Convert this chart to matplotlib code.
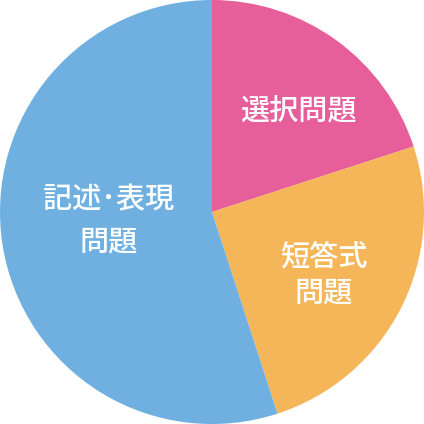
import matplotlib.pyplot as plt

# share of each question type (percent)
categories = ['選択問題', '短答式', '記述･表現']
shares = [20, 25, 55]
colors = ['#E65E9A', '#F5B65A', '#6FB0E0']

plt.rcParams['font.family'] = ['Noto Sans CJK JP', 'DejaVu Sans']

fig = plt.figure(figsize=(4.24, 4.24), dpi=100)
ax = fig.add_axes([0, 0, 1, 1])
ax.pie(shares, colors=colors, startangle=90, counterclock=False,
       radius=1.0, wedgeprops={'linewidth': 0})
ax.set_xlim(-1, 1)
ax.set_ylim(-1, 1)
ax.set_aspect('equal')
ax.axis('off')

style = dict(ha='center', va='center', color='white', fontsize=21,
             fontweight='medium')

# label lines, positions
ax.text(0.406, 0.476, categories[0], **style)
ax.text(0.528, -0.212, categories[1], **style)
ax.text(0.528, -0.382, '問題', **style)
ax.text(-0.49, 0.057, categories[2], **style)
ax.text(-0.49, -0.142, '問題', **style)

fig.savefig('out.png', dpi=100)
